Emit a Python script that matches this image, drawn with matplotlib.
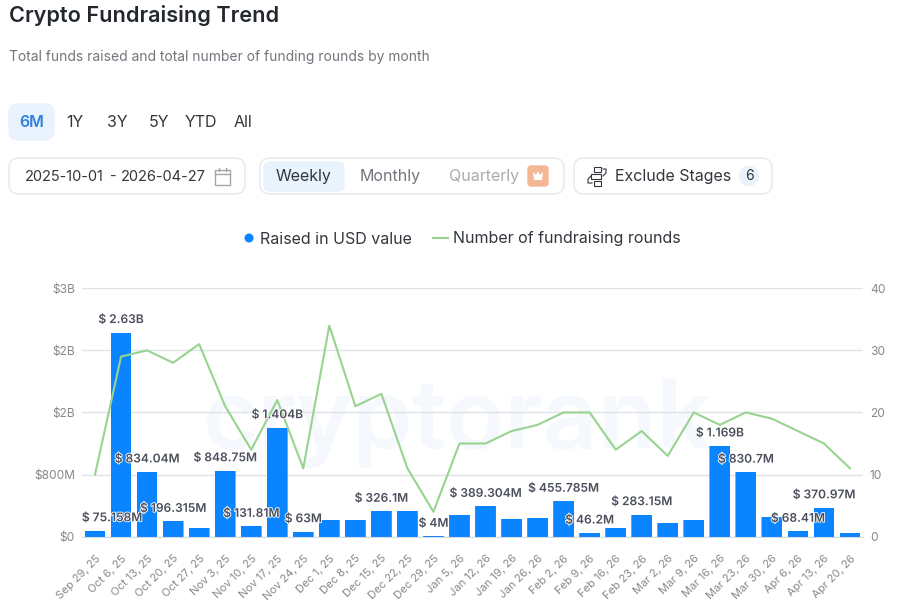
import matplotlib
matplotlib.use('Agg')
from matplotlib import pyplot as plt
from matplotlib import patheffects
from matplotlib.patches import FancyBboxPatch, Rectangle, Circle, Polygon

plt.rcParams['font.family'] = ['Inter', 'DejaVu Sans']

# Data
weeks = ["Sep 29, 25", "Oct 6, 25", "Oct 13, 25", "Oct 20, 25", "Oct 27, 25", "Nov 3, 25",
         "Nov 10, 25", "Nov 17, 25", "Nov 24, 25", "Dec 1, 25", "Dec 8, 25", "Dec 15, 25",
         "Dec 22, 25", "Dec 29, 25", "Jan 5, 26", "Jan 12, 26", "Jan 19, 26", "Jan 26, 26",
         "Feb 2, 26", "Feb 9, 26", "Feb 16, 26", "Feb 23, 26", "Mar 2, 26", "Mar 9, 26",
         "Mar 16, 26", "Mar 23, 26", "Mar 30, 26", "Apr 6, 26", "Apr 13, 26", "Apr 20, 26"]
raised = [75.158, 2630, 834.04, 196.315, 110, 848.75, 131.81, 1404, 63, 215, 215, 326.1,
          326, 4, 280, 389.304, 225, 236, 455.785, 46.2, 110, 283.15, 172, 215,
          1169, 830.7, 258, 68.41, 370.97, 43]
rounds = [10, 29, 30, 28, 31, 21, 14, 22, 11, 34, 21, 23, 11, 4, 15, 15, 17, 18, 20, 20,
          14, 17, 13, 20, 18, 20, 19, 17, 15, 11]
bar_labels = ["$ 75.158M", "$ 2.63B", "$ 834.04M", "$ 196.315M", None, "$ 848.75M", "$ 131.81M",
              "$ 1.404B", "$ 63M", None, None, "$ 326.1M", None, "$ 4M", None, "$ 389.304M",
              None, None, "$ 455.785M", "$ 46.2M", None, "$ 283.15M", None, None,
              "$ 1.169B", "$ 830.7M", None, "$ 68.41M", "$ 370.97M", None]
left_ticks = [0, 800, 1600, 2400, 3200]
left_tick_labels = ["$0", "$800M", "$2B", "$2B", "$3B"]
right_ticks = [0, 10, 20, 30, 40]

BLUE = "#0a84ff"
GREEN = "#98d390"
GRID = "#dfe3e8"
DARK = "#23272e"
PILL = "#e8f3fd"
BORDER = "#e6e8eb"
TICK = "#85898e"

W, H = 898, 608
fig = plt.figure(figsize=(W / 100, H / 100), dpi=100)

# page layer in pixel coordinates, for the controls above the chart
page = fig.add_axes([0, 0, 1, 1])
page.set_xlim(0, W)
page.set_ylim(H, 0)
page.axis('off')


def px(size):
    return size * 0.72


def box(x0, y0, x1, y1, face="white", edge=BORDER, r=8, lw=1.0):
    page.add_patch(FancyBboxPatch((x0 + r, y0 + r), x1 - x0 - 2 * r, y1 - y0 - 2 * r,
                                  boxstyle="round,pad=%g,rounding_size=%g" % (r, r),
                                  fc=face, ec=edge, lw=lw))


def label(x, y, s, size=16, color="#33373d", weight="normal", ha="left"):
    page.text(x, y + 1.5, s, fontsize=px(size), color=color, fontweight=weight, ha=ha, va="center")


label(9, 14, "Crypto Fundraising Trend", size=21.7, color=DARK, weight="semibold")
label(9, 56, "Total funds raised and total number of funding rounds by month", size=13.85, color="#71767d")

box(9, 104, 54, 140, face=PILL, edge=PILL, r=9)
label(31.5, 121, "6M", color="#2f80e0", weight="semibold", ha="center")
for x, s in [(75, "1Y"), (117, "3Y"), (159, "5Y"), (201, "YTD"), (243, "All")]:
    label(x, 121, s, ha="center")

box(9, 158, 245, 194, r=10)
label(25, 175.5, "2025-10-01", size=14.6)
label(110, 175.5, "-", size=14.6)
label(121, 175.5, "2026-04-27", size=14.6)
page.add_patch(Rectangle((215, 169.5), 15, 15, fc="white", ec="#a3a7ac", lw=1))
page.plot([215, 230], [174, 174], color="#a3a7ac", lw=1)
page.plot([219, 219], [168, 171], color="#a3a7ac", lw=1)
page.plot([226, 226], [168, 171], color="#a3a7ac", lw=1)

box(260, 158, 564, 194, r=10)
box(264, 162, 344, 191, face=PILL, edge=PILL, r=6)
label(304, 175.5, "Weekly", ha="center", color="#33373d")
label(360, 175.5, "Monthly", color="#71767d")
label(449, 175.5, "Quarterly", color="#a9acb0")
box(528, 166, 548, 186, face="#f3b796", edge="#f3b796", r=3)
page.add_patch(Polygon([(533, 172), (536, 175), (538, 171), (540, 175), (543, 172), (542, 180), (534, 180)],
                       fc="white", ec="none"))

box(574, 158, 772, 194, r=10)
for x0, y0, w in [(594, 167, 7), (591, 174, 10), (594, 181, 7)]:
    page.add_patch(Rectangle((x0, y0), w, 5, fc="white", ec="#33373d", lw=0.8))
page.plot([603, 606, 606, 603], [169, 169, 173, 176], color="#33373d", lw=0.8)
page.plot([591, 588, 588, 592], [176, 179, 183, 183], color="#33373d", lw=0.8)
label(615, 175.5, "Exclude Stages")
page.add_patch(Circle((749, 176), 10, fc=PILL, ec="none"))
label(749, 175, "6", size=14, ha="center")

page.add_patch(Circle((249, 238), 4.5, fc=BLUE, ec="none"))
label(260, 237.5, "Raised in USD value")
page.plot([432, 449], [238, 238], color=GREEN, lw=1.5, solid_capstyle='butt')
label(453, 237.5, "Number of fundraising rounds")

page.text(458, 423, "cryptorank", fontsize=px(96), color="#f5f8fc", fontweight="semibold",
          ha="center", va="center")

# chart, bars on the left scale, rounds on the right one
left, right, top, bottom = 82, 863, 288.3, 536.6
ax = fig.add_axes([left / W, 1 - bottom / H, (right - left) / W, (bottom - top) / H])
ax.patch.set_visible(False)
xs = list(range(len(weeks)))
ax.set_xlim(-0.5, len(weeks) - 0.5)
ax.set_ylim(0, 3200)
ax.set_axisbelow(True)
ax.grid(axis='y', color=GRID, lw=1)

bars = ax.bar(xs, raised, width=0.8, color=BLUE, zorder=2)

# round the top corners by clipping every bar to a rounded box
unit_x = (right - left) / len(weeks)
unit_y = (bottom - top) / 3200
for bar in bars:
    r = 3 / unit_x
    clip = FancyBboxPatch((bar.get_x() + r, -500), bar.get_width() - 2 * r, bar.get_height() + 500 - r,
                          boxstyle="round,pad=%g,rounding_size=%g" % (r, r),
                          mutation_aspect=unit_x / unit_y, transform=ax.transData)
    bar.set_clip_path(clip)

ax.set_xticks(xs)
ax.set_xticklabels(weeks, rotation=45, ha='right', rotation_mode='anchor', fontsize=px(11.2), color=TICK)
ax.set_yticks(left_ticks)
ax.set_yticklabels(left_tick_labels, fontsize=px(12), color=TICK)
ax.tick_params(axis='x', length=0, pad=12)
ax.tick_params(axis='y', length=0, pad=5)
for side in ['top', 'right', 'left']:
    ax.spines[side].set_visible(False)
ax.spines['bottom'].set_color("#d5dbe6")

ax2 = ax.twinx()
ax2.set_ylim(0, 40)
ax2.set_yticks(right_ticks)
ax2.set_yticklabels([str(t) for t in right_ticks], fontsize=px(12), color=TICK)
ax2.tick_params(axis='y', length=0, pad=5)
for side in ax2.spines:
    ax2.spines[side].set_visible(False)
ax2.plot(xs, rounds, color=GREEN, lw=1.5, zorder=3)

# value labels go over everything, the first one is pushed right to stay inside the chart
ax3 = ax.twinx()
ax3.set_ylim(0, 3200)
ax3.axis('off')
for i, text in enumerate(bar_labels):
    if text is None:
        continue
    offset = 17 * 0.72 if i == 0 else 0
    ax3.annotate(text, (i, raised[i]), xytext=(offset, 12.5 * 0.72), textcoords='offset points',
                 ha='center', va='center', fontsize=px(12), fontweight='semibold', color="#4b4f5c",
                 path_effects=[patheffects.withStroke(linewidth=1.2, foreground="white")], zorder=5)

fig.savefig("out.png", dpi=100)
